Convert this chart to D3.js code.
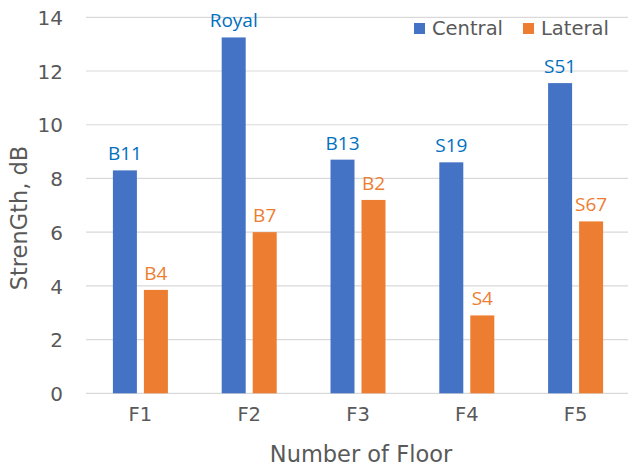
<!DOCTYPE html>
<html>
<head>
<meta charset="utf-8">
<script src="https://cdn.jsdelivr.net/npm/d3@7"></script>
<style>
  html, body { margin: 0; padding: 0; background: #ffffff; }
  svg { display: block; }
</style>
</head>
<body>
<svg id="chart" width="628" height="468"></svg>
<script>
// Floors on the x axis
const floors = ["F1", "F2", "F3", "F4", "F5"];
// Series names
const seriesNames = ["Central", "Lateral"];
// Strength values in dB
const centralValues = [8.3, 13.25, 8.7, 8.6, 11.55];
const lateralValues = [3.85, 6.0, 7.2, 2.9, 6.4];
// Labels shown above each bar
const centralLabels = ["B11", "Royal", "B13", "S19", "S51"];
const lateralLabels = ["B4", "B7", "B2", "S4", "S67"];
// Y axis ticks
const yTicks = [0, 2, 4, 6, 8, 10, 12, 14];

const barColors = { Central: "#4472C4", Lateral: "#ED7D31" };
const labelColors = { Central: "#0070C0", Lateral: "#ED7D31" };
const textColor = "#595959";
const gridColor = "#D9D9D9";
const axisFont = "DejaVu Sans, Verdana, sans-serif";
const labelFont = "'Open Sans', 'Noto Sans', sans-serif";

const svg = d3.select("#chart");

const plot = { left: 86, right: 630, top: 17.3, bottom: 393.3 };

const x = d3.scaleBand()
  .domain(floors)
  .range([plot.left, plot.right])
  .paddingInner(0.4945)
  .paddingOuter(0.4945 / 2);

const xSub = d3.scaleBand()
  .domain(seriesNames)
  .range([0, x.bandwidth()])
  .paddingInner(0.2258)
  .paddingOuter(0);

const y = d3.scaleLinear()
  .domain([0, 14])
  .range([plot.bottom, plot.top]);

// Horizontal gridlines
svg.append("g")
  .selectAll("line")
  .data(yTicks)
  .join("line")
  .attr("x1", plot.left)
  .attr("x2", 628)
  .attr("y1", d => y(d))
  .attr("y2", d => y(d))
  .attr("stroke", gridColor)
  .attr("stroke-width", 1.2);

// Y axis tick labels
const yAxis = d3.axisLeft(y).tickValues(yTicks).tickSize(0).tickPadding(0);
const gy = svg.append("g")
  .attr("transform", `translate(63,0)`)
  .call(yAxis);
gy.select(".domain").remove();
gy.selectAll("text")
  .attr("font-family", axisFont)
  .attr("font-size", 20)
  .attr("fill", textColor)
  .attr("dy", "0.36em");

// X axis tick labels
const xAxis = d3.axisBottom(x).tickSize(0).tickPadding(0);
const gx = svg.append("g")
  .attr("transform", `translate(0,${plot.bottom})`)
  .call(xAxis);
gx.select(".domain").remove();
gx.selectAll("text")
  .attr("font-family", axisFont)
  .attr("font-size", 19.5)
  .attr("fill", textColor)
  .attr("dy", null)
  .attr("y", 28);

// Bars grouped by floor
const rows = floors.map((f, i) => ({
  floor: f,
  items: [
    { series: "Central", value: centralValues[i], label: centralLabels[i] },
    { series: "Lateral", value: lateralValues[i], label: lateralLabels[i] }
  ]
}));

const groups = svg.append("g")
  .selectAll("g")
  .data(rows)
  .join("g")
  .attr("transform", d => `translate(${x(d.floor)},0)`);

groups.selectAll("rect")
  .data(d => d.items)
  .join("rect")
  .attr("x", d => xSub(d.series))
  .attr("width", xSub.bandwidth())
  .attr("y", d => y(d.value))
  .attr("height", d => y(0) - y(d.value))
  .attr("fill", d => barColors[d.series]);

groups.selectAll("text")
  .data(d => d.items)
  .join("text")
  .attr("x", d => xSub(d.series) + xSub.bandwidth() / 2)
  .attr("y", d => y(d.value) - 10)
  .attr("text-anchor", "middle")
  .attr("font-family", labelFont)
  .attr("font-size", 19)
  .attr("fill", d => labelColors[d.series])
  .text(d => d.label);

// Axis titles
svg.append("text")
  .attr("x", 361)
  .attr("y", 462)
  .attr("text-anchor", "middle")
  .attr("font-family", axisFont)
  .attr("font-size", 22.5)
  .attr("fill", textColor)
  .text("Number of Floor");

svg.append("text")
  .attr("transform", "translate(27,218) rotate(-90)")
  .attr("text-anchor", "middle")
  .attr("font-family", axisFont)
  .attr("font-size", 22.5)
  .attr("fill", textColor)
  .text("StrenGth, dB");

// Legend
const legendX = [414, 523];
const legend = svg.append("g")
  .selectAll("g")
  .data(seriesNames)
  .join("g")
  .attr("transform", (d, i) => `translate(${legendX[i]},23)`);

legend.append("rect")
  .attr("width", 11)
  .attr("height", 11)
  .attr("fill", d => barColors[d]);

legend.append("text")
  .attr("x", 18)
  .attr("y", 12)
  .attr("font-family", axisFont)
  .attr("font-size", 19.5)
  .attr("fill", textColor)
  .text(d => d);
</script>
</body>
</html>
